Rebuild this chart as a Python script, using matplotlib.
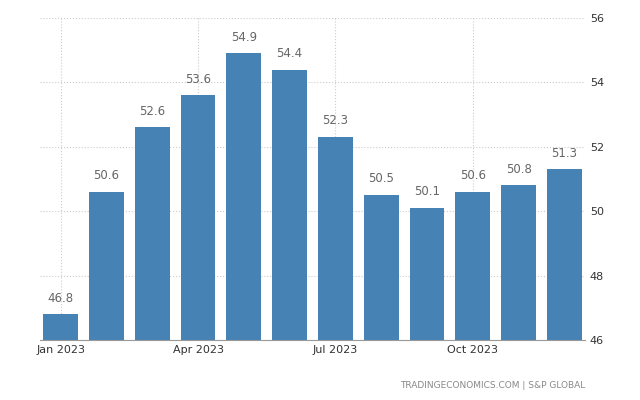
import matplotlib
matplotlib.use("Agg")
import matplotlib.pyplot as plt

months = ["Jan","Feb","Mar","Apr","May","Jun","Jul","Aug","Sep","Oct","Nov","Dec"]
values = [46.8,50.6,52.6,53.6,54.9,54.4,52.3,50.5,50.1,50.6,50.8,51.3]
tick_idx = [0,3,6,9]
tick_labels = ["Jan 2023","Apr 2023","Jul 2023","Oct 2023"]
yticks = [46,48,50,52,54,56]

fig = plt.figure(figsize=(6.4,4.0),dpi=100)
ax = fig.add_axes([40/640, 60/400, 545/640, 322/400])
x = list(range(len(values)))
ax.bar(x, values, width=0.76, color="#4682b4", zorder=2)
for xi, v in zip(x, values):
    ax.text(xi, v+0.3, f"{v}", ha="center", va="bottom", fontsize=8.5, color="#666666")
ax.set_ylim(46,56)
ax.set_xlim(-0.45, 11.45)
ax.yaxis.tick_right()
ax.set_yticks(yticks)
ax.set_xticks(tick_idx)
ax.set_xticklabels(tick_labels)
ax.tick_params(length=0, labelsize=8, colors="#333333")
ax.grid(True, linestyle=":", color="#cccccc", linewidth=0.8, zorder=0)
for s in ["top","left","right"]:
    ax.spines[s].set_visible(False)
ax.spines["bottom"].set_color("#999999")
fig.text(585/640, 14/400, "TRADINGECONOMICS.COM | S&P GLOBAL", ha="right", va="center", fontsize=6.5, color="#888888")
fig.savefig("out.png", dpi=100)
